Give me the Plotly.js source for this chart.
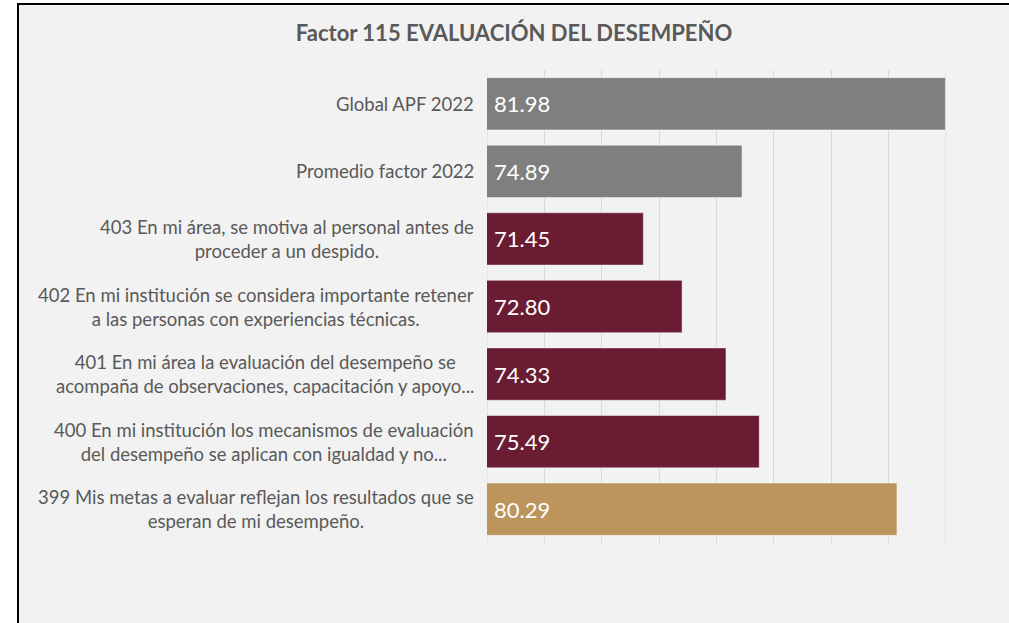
<!DOCTYPE html>
<html>
<head>
<meta charset="utf-8">
<script src="https://cdn.plot.ly/plotly-3.0.1.min.js"></script>
<style>
  html, body { margin: 0; padding: 0; background: #ffffff; }
  #frame { position: absolute; left: 17px; top: 3px; width: 992px; height: 620px;
           border-left: 2px solid #000; border-top: 2px solid #000; box-sizing: border-box;
           background: #f2f2f2; }
  #chart { width: 990px; height: 618px; }
</style>
</head>
<body>
<div id="frame"><div id="chart"></div></div>
<script>
const categories = [
  "Global APF 2022",
  "Promedio factor 2022",
  "403 En mi área, se motiva al personal antes de<br>proceder a un despido.",
  "402 En mi institución se considera importante retener<br>a las personas con experiencias técnicas.",
  "401 En mi área la evaluación del desempeño se<br>acompaña de observaciones, capacitación y apoyo...",
  "400 En mi institución los mecanismos de evaluación<br>del desempeño se aplican con igualdad y no...",
  "399 Mis metas a evaluar reflejan los resultados que se<br>esperan de mi desempeño."
];
const values = [81.98, 74.89, 71.45, 72.80, 74.33, 75.49, 80.29];
const barColors = ["#7f7f7f", "#7f7f7f", "#691c32", "#691c32", "#691c32", "#691c32", "#bc955c"];
const chartTitle = "Factor 115 EVALUACIÓN DEL DESEMPEÑO";
const axisMin = 66, axisMax = 82, axisStep = 2;

const trace = {
  type: "bar",
  orientation: "h",
  x: values,
  y: categories,
  marker: { color: barColors, line: { color: "rgba(255,255,255,0.45)", width: 1 } },
  hoverinfo: "none"
};

const labelAnnotations = categories.map(function (c) {
  return {
    xref: "paper", yref: "y", x: 0, y: c,
    xanchor: "right", yanchor: "middle", xshift: -11,
    text: c, align: "center", showarrow: false,
    font: { family: "Lato, 'Open Sans', sans-serif", size: 18.5, color: "#595959" }
  };
});
const valueAnnotations = categories.map(function (c, i) {
  return {
    xref: "paper", yref: "y", x: 0, y: c,
    xanchor: "left", yanchor: "middle", xshift: 5,
    text: values[i].toFixed(2), showarrow: false,
    font: { family: "Lato, 'Open Sans', sans-serif", size: 22, color: "#ffffff" }
  };
});

const edgeLines = [axisMin, axisMax].map(function (v) {
  return {
    type: "line", layer: "below", xref: "x", yref: "paper",
    x0: v, x1: v, y0: 0, y1: 1,
    line: { color: "#d9d9d9", width: 1 }
  };
});

const layout = {
  width: 990, height: 618,
  paper_bgcolor: "#f2f2f2", plot_bgcolor: "#f2f2f2",
  margin: { l: 468, r: 63, t: 65, b: 80 },
  bargap: 0.226,
  showlegend: false,
  title: {
    text: "<b>" + chartTitle + "</b>",
    xref: "container", x: 0.5, xanchor: "center",
    yref: "container", y: 0.955, yanchor: "middle",
    font: { family: "Lato, 'Open Sans', sans-serif", size: 22, color: "#595959" }
  },
  xaxis: {
    range: [axisMin, axisMax], dtick: axisStep, tick0: axisMin,
    showgrid: true, gridcolor: "#d9d9d9", gridwidth: 1,
    zeroline: false, showline: false, showticklabels: false, ticks: "",
    fixedrange: true
  },
  yaxis: {
    type: "category", autorange: "reversed",
    showticklabels: false, showgrid: false, zeroline: false, showline: false, ticks: "",
    fixedrange: true
  },
  shapes: edgeLines,
  annotations: labelAnnotations.concat(valueAnnotations)
};

Plotly.newPlot("chart", [trace], layout, { displayModeBar: false, staticPlot: true });
</script>
</body>
</html>
